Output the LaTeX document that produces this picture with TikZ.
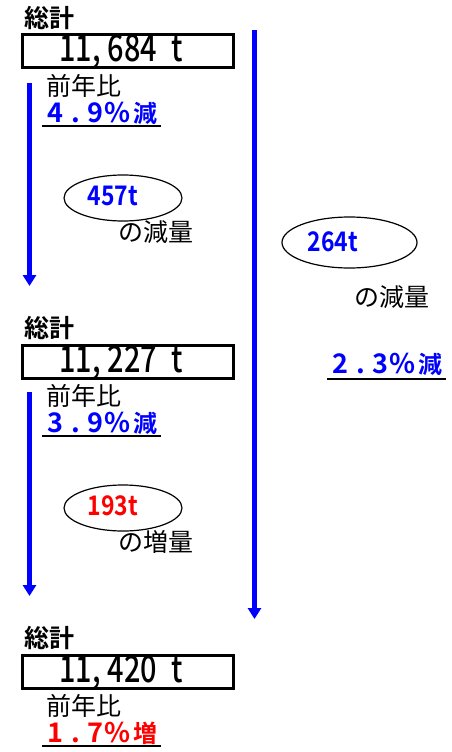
\documentclass[tikz,border=0pt]{standalone}
\usepackage{fontspec}
\usetikzlibrary{arrows.meta,shapes.geometric}
\newfontfamily\jp{Noto Sans CJK JP}
\newfontfamily\jpb{Noto Sans CJK JP Bold}
\newfontfamily\jpm{Noto Sans CJK JP Medium}
\definecolor{pblue}{RGB}{0,0,255}
\definecolor{pred}{RGB}{255,0,0}
\newcommand{\totnum}[2]{\scalebox{0.78}[1]{11,\hspace{9pt}#1\hspace{18pt}t}}
\newcommand{\pctxt}[3]{#1\hspace{8pt}.\hspace{8pt}#2\hspace{1pt}\%\hspace{3pt}{\fontsize{24}{24}\selectfont #3}}
\begin{document}
\begin{tikzpicture}[x=1pt,y=-1pt,
  title/.style={anchor=west,inner sep=0,font=\jpb\fontsize{25}{25}\selectfont},
  totalbox/.style={draw,line width=3pt,minimum width=211pt,minimum height=33pt,inner sep=0,anchor=north west},
  totaltxt/.style={inner sep=0,anchor=base,font=\jpm\fontsize{37}{37}\selectfont},
  jlabel/.style={anchor=west,inner sep=0,font=\jp\fontsize{25}{25}\selectfont},
  pct/.style={anchor=base west,inner sep=0,font=\jpb\fontsize{27}{27}\selectfont},
  uline/.style={line width=2pt},
  flow/.style={pblue,line width=4.5pt,-{Triangle[width=13pt,length=11pt]}},
  bubble/.style={draw,ellipse,line width=1.2pt,inner sep=0},
  amt/.style={inner sep=0,font=\jpb\fontsize{27}{27}\selectfont}
]
\useasboundingbox (0,0) rectangle (452,752);

% block 1
\node[title] (t1) at (24,18) {総計};
\node[totalbox] (b1) at (20.5,33.5) {};
\node[totaltxt] (v1) at (121,62) {\totnum{684}{}};
\node[jlabel] (y1) at (46,86) {前年比};
\node[pct,text=pblue] (p1) at (47,122) {\pctxt{4}{9}{減}};
\coordinate (u1a) at (42,126); \coordinate (u1b) at (161,126);
\draw[uline] (u1a) -- (u1b);

% block 2
\node[title] (t2) at (24,328) {総計};
\node[totalbox] (b2) at (20.5,343.5) {};
\node[totaltxt] (v2) at (121,372) {\totnum{227}{}};
\node[jlabel] (y2) at (46,396) {前年比};
\node[pct,text=pblue] (p2) at (47,432) {\pctxt{3}{9}{減}};
\coordinate (u2a) at (42,436); \coordinate (u2b) at (161,436);
\draw[uline] (u2a) -- (u2b);

% block 3
\node[title] (t3) at (24,638) {総計};
\node[totalbox] (b3) at (20.5,653.5) {};
\node[totaltxt] (v3) at (121,682) {\totnum{420}{}};
\node[jlabel] (y3) at (46,706) {前年比};
\node[pct,text=pred] (p3) at (47,742) {\pctxt{1}{7}{増}};
\coordinate (u3a) at (42,746); \coordinate (u3b) at (161,746);
\draw[uline] (u3a) -- (u3b);

% arrows
\coordinate (a1s) at (29.5,83); \coordinate (a1e) at (29.5,286);
\draw[flow] (a1s) -- (a1e);
\coordinate (a2s) at (29.5,392); \coordinate (a2e) at (29.5,596);
\draw[flow] (a2s) -- (a2e);
\coordinate (a3s) at (254.5,30); \coordinate (a3e) at (254.5,619);
\draw[flow] (a3s) -- (a3e);

% bubbles
\node[bubble,minimum width=118pt,minimum height=46pt] (e1) at (123,198) {};
\node[amt,text=pblue] (m1) at (113,196) {\scalebox{0.85}[1]{457t}};
\node[jlabel] (d1) at (118,232) {の減量};

\node[bubble,minimum width=118pt,minimum height=46pt] (e2) at (123,508) {};
\node[amt,text=pred] (m2) at (113,506) {\scalebox{0.85}[1]{193t}};
\node[jlabel] (d2) at (118,542) {の増量};

\node[bubble,minimum width=135pt,minimum height=51pt] (e3) at (349.5,242.5) {};
\node[amt,text=pblue] (m3) at (333,242) {\scalebox{0.85}[1]{264t}};
\node[jlabel] (d3) at (354,297) {の減量};
\node[pct,text=pblue] (p4) at (332,373) {\pctxt{2}{3}{減}};
\coordinate (u4a) at (327,379); \coordinate (u4b) at (446,379);
\draw[uline] (u4a) -- (u4b);
\end{tikzpicture}
\end{document}
